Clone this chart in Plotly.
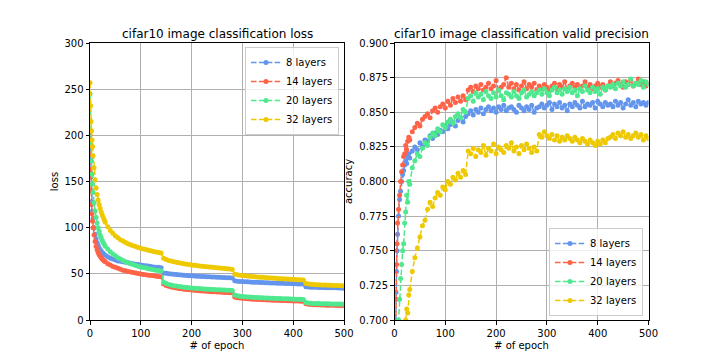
import plotly.graph_objects as go

# ---------------- data ----------------
epochs = [0, 1, 2, 3, 4, 5, 6, 8, 10, 12, 14, 16, 18, 20, 22, 24, 26, 28, 30] + list(range(35, 501, 5))

series_names = ["8 layers", "14 layers", "20 layers", "32 layers"]
series_colors = ["#6495ED", "#FF6347", "#4EE88E", "#EEC900"]

loss_8 = [205, 175, 155, 140, 128, 118, 110, 100, 93, 88, 84, 81, 78, 76, 74.5, 73, 72, 71, 70,
          68.5, 67, 66, 65, 64, 63.5, 63, 62.5, 62, 61.5, 61, 60.5, 60, 59.5, 59, 58.8, 58.5, 58, 57.5, 57.2, 57, 56.5,
          51, 50.5, 50, 49.8, 49.5, 49.2, 49, 48.8, 48.5, 48.3, 48, 47.8, 47.6, 47.5, 47.3, 47.2, 47, 46.9, 46.8, 46.6,
          46.5, 46.4, 46.2, 46.1, 46, 45.8, 45.7, 45.5,
          42.5, 42, 41.8, 41.6, 41.5, 41.3, 41.2, 41, 40.9, 40.8, 40.6, 40.5, 40.4, 40.3, 40.2, 40.1, 40, 39.9, 39.8,
          39.7, 39.6, 39.5, 39.4, 39.3, 39.2, 39.1, 39, 38.9,
          36, 35.8, 35.6, 35.5, 35.4, 35.3, 35.2, 35.1, 35, 35, 34.9, 34.8, 34.8, 34.7, 34.6, 34.5]
loss_14 = [200, 160, 140, 125, 115, 107, 100, 92, 85, 80, 76, 73, 71, 69, 67.5, 66, 65, 64, 63,
           61, 59.5, 58, 57, 56, 55, 54, 53.3, 52.6, 52, 51.4, 50.8, 50.3, 49.8, 49.4, 49, 48.6, 48.2, 47.8, 47.5, 47.2, 46.8,
           39, 37.5, 36.5, 35.8, 35.2, 34.7, 34.2, 33.8, 33.4, 33.1, 32.8, 32.5, 32.2, 32, 31.7, 31.5, 31.3, 31.1, 30.9,
           30.7, 30.5, 30.3, 30.2, 30, 29.9, 29.7, 29.6, 29.4,
           25, 24.2, 23.8, 23.5, 23.2, 23, 22.8, 22.6, 22.4, 22.2, 22.1, 22, 21.8, 21.7, 21.6, 21.5, 21.4, 21.3, 21.2,
           21.1, 21, 20.9, 20.8, 20.7, 20.6, 20.5, 20.4, 20.3,
           17.5, 17, 16.8, 16.6, 16.5, 16.4, 16.3, 16.2, 16.1, 16, 16, 15.9, 15.8, 15.8, 15.7, 15.6]
loss_20 = [245, 215, 190, 172, 158, 147, 138, 127, 118, 111, 105, 100, 96, 92, 89, 86, 84, 82, 80,
           77, 74, 71.5, 69.5, 67.5, 66, 64.5, 63, 62, 61, 60, 59, 58.2, 57.5, 56.8, 56.2, 55.6, 55, 54.5, 54, 53.5, 53,
           41, 39.5, 38.5, 37.8, 37.2, 36.7, 36.3, 35.9, 35.5, 35.2, 34.9, 34.6, 34.4, 34.2, 34, 33.8, 33.6, 33.4, 33.3,
           33.1, 33, 32.8, 32.7, 32.5, 32.4, 32.3, 32.1, 32,
           27, 26.2, 25.8, 25.5, 25.2, 25, 24.8, 24.6, 24.4, 24.3, 24.1, 24, 23.8, 23.7, 23.6, 23.5, 23.4, 23.3, 23.2,
           23.1, 23, 22.9, 22.8, 22.7, 22.6, 22.5, 22.4, 22.3,
           19, 18.5, 18.2, 18, 17.9, 17.8, 17.7, 17.6, 17.5, 17.5, 17.4, 17.3, 17.3, 17.2, 17.2, 17.1]
loss_32 = [257, 232, 215, 205, 195, 188, 178, 165, 152, 143, 136, 130, 125, 121, 117, 114, 111, 108.5, 106,
           101, 97, 94, 91, 89, 87, 85.5, 84, 82.5, 81.5, 80.5, 79.5, 78.5, 77.8, 77, 76.3, 75.6, 75, 74.3, 73.7, 73.1, 72.5,
           67, 65.5, 64.5, 63.8, 63.2, 62.6, 62, 61.5, 61, 60.5, 60.1, 59.7, 59.3, 59, 58.6, 58.3, 58, 57.7, 57.4,
           57.1, 56.8, 56.5, 56.2, 56, 55.7, 55.4, 55.1, 54.8,
           49.5, 49, 48.6, 48.2, 47.9, 47.6, 47.3, 47, 46.8, 46.6, 46.4, 46.2, 46, 45.8, 45.6, 45.4, 45.2, 45, 44.8,
           44.7, 44.5, 44.3, 44.2, 44, 43.9, 43.7, 43.6, 43.4,
           39.5, 39, 38.7, 38.5, 38.3, 38.2, 38, 37.9, 37.8, 37.7, 37.6, 37.5, 37.4, 37.3, 37.2, 37.1]

acc_8 = [0.62, 0.66, 0.70, 0.72, 0.735, 0.75, 0.762, 0.775, 0.787, 0.793, 0.80, 0.805, 0.808, 0.812, 0.815, 0.813, 0.818, 0.82, 0.817,
         0.822, 0.825, 0.823, 0.828, 0.826, 0.830, 0.829, 0.833, 0.831, 0.835, 0.834, 0.837, 0.836, 0.840, 0.838, 0.841,
         0.843, 0.840, 0.844, 0.846, 0.843, 0.847,
         0.849, 0.851, 0.848, 0.852, 0.850, 0.853, 0.849, 0.852, 0.854, 0.851, 0.853, 0.850, 0.854, 0.852, 0.855, 0.851,
         0.853, 0.854, 0.852, 0.850, 0.855, 0.853, 0.851, 0.854, 0.852, 0.855, 0.850, 0.853,
         0.854, 0.856, 0.853, 0.855, 0.857, 0.852, 0.856, 0.854, 0.857, 0.853, 0.855, 0.851, 0.856, 0.854, 0.857, 0.855,
         0.853, 0.858, 0.854, 0.856, 0.855, 0.857, 0.853, 0.858, 0.856, 0.854, 0.857, 0.855,
         0.856, 0.854, 0.858, 0.855, 0.857, 0.853, 0.856, 0.859, 0.855, 0.857, 0.854, 0.858, 0.856, 0.857, 0.855, 0.857]
acc_14 = [0.60, 0.65, 0.69, 0.715, 0.74, 0.755, 0.77, 0.78, 0.79, 0.80, 0.807, 0.812, 0.818, 0.82, 0.826, 0.823, 0.829, 0.832, 0.830,
          0.836, 0.839, 0.842, 0.840, 0.845, 0.847, 0.849, 0.846, 0.851, 0.853, 0.850, 0.854, 0.856, 0.853, 0.858, 0.855,
          0.860, 0.857, 0.861, 0.858, 0.862, 0.859,
          0.866, 0.868, 0.865, 0.869, 0.867, 0.870, 0.866, 0.868, 0.871, 0.867, 0.869, 0.873, 0.866, 0.868, 0.870, 0.875,
          0.868, 0.871, 0.867, 0.870, 0.866, 0.869, 0.872, 0.867, 0.870, 0.868, 0.871, 0.866,
          0.869, 0.867, 0.870, 0.868, 0.866, 0.869, 0.871, 0.867, 0.870, 0.868, 0.872, 0.866, 0.869, 0.871, 0.868, 0.870,
          0.867, 0.869, 0.872, 0.868, 0.870, 0.867, 0.869, 0.871, 0.868, 0.870, 0.866, 0.869,
          0.872, 0.869, 0.871, 0.873, 0.870, 0.868, 0.872, 0.870, 0.873, 0.869, 0.871, 0.874, 0.870, 0.872, 0.869, 0.871]
acc_20 = [0.55, 0.58, 0.61, 0.63, 0.65, 0.665, 0.68, 0.70, 0.715, 0.73, 0.74, 0.75, 0.755, 0.77, 0.778, 0.79, 0.785, 0.80, 0.798,
          0.810, 0.815, 0.820, 0.818, 0.824, 0.828, 0.826, 0.832, 0.835, 0.833, 0.838, 0.836, 0.841, 0.839, 0.843, 0.845,
          0.842, 0.847, 0.849, 0.846, 0.852, 0.850,
          0.860, 0.862, 0.858, 0.864, 0.861, 0.863, 0.859, 0.865, 0.862, 0.860, 0.864, 0.861, 0.866, 0.862, 0.859, 0.864,
          0.863, 0.861, 0.865, 0.862, 0.860, 0.864, 0.866, 0.861, 0.863, 0.865, 0.862, 0.864,
          0.866, 0.863, 0.867, 0.864, 0.862, 0.866, 0.868, 0.864, 0.866, 0.863, 0.867, 0.865, 0.868, 0.864, 0.866, 0.862,
          0.867, 0.865, 0.869, 0.866, 0.864, 0.868, 0.865, 0.867, 0.863, 0.868, 0.866, 0.869,
          0.868, 0.870, 0.867, 0.871, 0.869, 0.872, 0.868, 0.870, 0.874, 0.869, 0.871, 0.870, 0.873, 0.868, 0.872, 0.870]
acc_32 = [0.50, 0.52, 0.54, 0.56, 0.58, 0.595, 0.61, 0.63, 0.645, 0.66, 0.67, 0.68, 0.69, 0.695, 0.70, 0.708, 0.705, 0.718, 0.722,
          0.735, 0.745, 0.752, 0.760, 0.768, 0.772, 0.780, 0.785, 0.782, 0.788, 0.792, 0.790, 0.796, 0.794, 0.800, 0.798,
          0.803, 0.801, 0.806, 0.803, 0.808, 0.805,
          0.822, 0.820, 0.824, 0.818, 0.823, 0.821, 0.826, 0.819, 0.824, 0.822, 0.827, 0.820, 0.825, 0.823, 0.821, 0.826,
          0.824, 0.828, 0.822, 0.825, 0.820, 0.826, 0.823, 0.827, 0.824, 0.821, 0.825, 0.822,
          0.834, 0.832, 0.836, 0.833, 0.831, 0.834, 0.830, 0.833, 0.829, 0.832, 0.830, 0.833, 0.831, 0.829, 0.832, 0.830,
          0.828, 0.831, 0.829, 0.827, 0.830, 0.828, 0.826, 0.829, 0.827, 0.830, 0.828, 0.831,
          0.832, 0.834, 0.831, 0.835, 0.833, 0.836, 0.832, 0.834, 0.831, 0.833, 0.835, 0.832, 0.834, 0.830, 0.833, 0.831]

loss_ticks = [0, 50, 100, 150, 200, 250, 300]
acc_ticks = [0.700, 0.725, 0.750, 0.775, 0.800, 0.825, 0.850, 0.875, 0.900]
epoch_ticks = [0, 100, 200, 300, 400, 500]

# ---------------- figure ----------------
W, H = 720, 360
FONT = "DejaVu Sans"
fig = go.Figure()

loss_series = [loss_8, loss_14, loss_20, loss_32]
acc_series = [acc_8, acc_14, acc_20, acc_32]

for name, color, ys in zip(series_names, series_colors, loss_series):
    fig.add_trace(go.Scatter(
        x=epochs, y=ys, name=name, mode="lines+markers",
        line=dict(color=color, width=1.5, dash="5.5px,2.4px"),
        marker=dict(color=color, size=5, line=dict(width=0)),
        xaxis="x", yaxis="y", legend="legend"))

for name, color, ys in zip(series_names, series_colors, acc_series):
    fig.add_trace(go.Scatter(
        x=epochs, y=ys, name=name, mode="lines+markers",
        line=dict(color=color, width=1.5, dash="5.5px,2.4px"),
        marker=dict(color=color, size=5, line=dict(width=0)),
        xaxis="x2", yaxis="y2", legend="legend2"))

ax_common = dict(
    showline=True, linecolor="black", linewidth=1, mirror=True,
    ticks="outside", ticklen=3.5, tickwidth=0.8, tickcolor="black",
    showgrid=True, gridcolor="#b0b0b0", gridwidth=0.8, zeroline=False,
    tickfont=dict(family=FONT, size=10, color="black"), automargin=False,
)

yb, yt = 40 / H, 317 / H
fig.update_layout(
    width=W, height=H,
    margin=dict(l=0, r=0, t=0, b=0, autoexpand=False),
    paper_bgcolor="white", plot_bgcolor="white",
    font=dict(family=FONT, size=10, color="black"),
    xaxis=dict(domain=[90 / W, 344 / W], range=[0, 500], tickvals=epoch_ticks, anchor="y",
               title=dict(text="# of epoch", standoff=4, font=dict(family=FONT, size=10)), **ax_common),
    yaxis=dict(domain=[yb, yt], range=[0, 300], tickvals=loss_ticks, anchor="x",
               title=dict(text="loss", standoff=3, font=dict(family=FONT, size=10)), **ax_common),
    xaxis2=dict(domain=[394.5 / W, 648.5 / W], range=[0, 500], tickvals=epoch_ticks, anchor="y2",
                title=dict(text="# of epoch", standoff=4, font=dict(family=FONT, size=10)), **ax_common),
    yaxis2=dict(domain=[yb, yt], range=[0.7, 0.9], tickvals=acc_ticks, tickformat=".3f", anchor="x2",
                title=dict(text="accuracy", standoff=4, font=dict(family=FONT, size=10)), **ax_common),
    legend=dict(x=339 / W, y=(H - 47) / H, xanchor="right", yanchor="top",
                bgcolor="rgba(255,255,255,0.8)", bordercolor="#cccccc", borderwidth=1,
                font=dict(family=FONT, size=10), itemwidth=30, tracegroupgap=0),
    legend2=dict(x=643 / W, y=(H - 316) / H, xanchor="right", yanchor="bottom",
                 bgcolor="rgba(255,255,255,0.8)", bordercolor="#cccccc", borderwidth=1,
                 font=dict(family=FONT, size=10), itemwidth=30, tracegroupgap=0),
    annotations=[
        dict(text="cifar10 image classification loss", x=(90 + 344) / 2 / W, y=(H - 34) / H,
             xref="paper", yref="paper", showarrow=False, xanchor="center", yanchor="middle",
             font=dict(family=FONT, size=12, color="black")),
        dict(text="cifar10 image classification valid precision", x=(394.5 + 648.5) / 2 / W, y=(H - 34) / H,
             xref="paper", yref="paper", showarrow=False, xanchor="center", yanchor="middle",
             font=dict(family=FONT, size=12, color="black")),
    ],
)

fig.write_html("out.html", config={"displayModeBar": False},
               post_script="document.body.style.margin='0px';")
